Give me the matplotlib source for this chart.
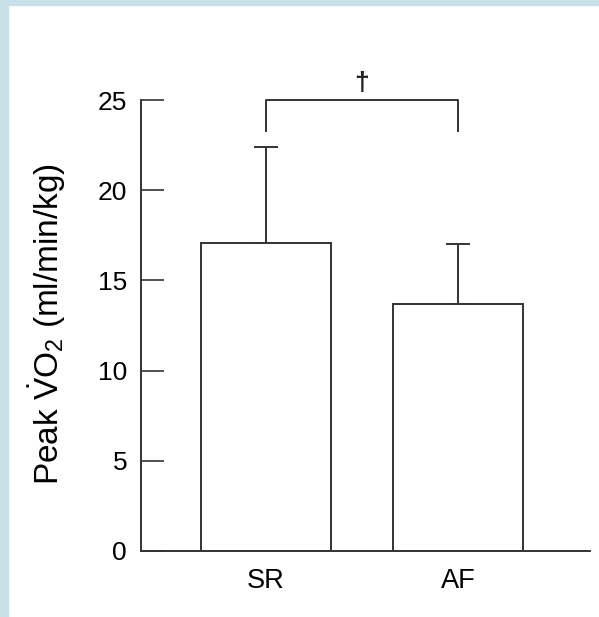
import matplotlib
matplotlib.use("Agg")
import matplotlib.pyplot as plt
from matplotlib.patches import Rectangle

# Data
groups = ["SR", "AF"]
means = [17.1, 13.7]
sds = [5.3, 3.3]
y_ticks = [0, 5, 10, 15, 20, 25]
sig_mark = "\u2020"

ink = "#333333"
frame_blue = "#c9dfea"

plt.rcParams.update({
    "font.family": ["Liberation Sans", "DejaVu Sans"],
    "mathtext.fontset": "custom",
    "mathtext.rm": "Liberation Sans",
    "mathtext.it": "Liberation Sans:italic",
    "text.color": "#231f20",
})

W, H = 599, 617
fig = plt.figure(figsize=(W / 100, H / 100), dpi=100)
fig.patch.set_facecolor("white")

# light blue frame on top and left
fig.patches.append(Rectangle((0, 1 - 5 / H), 1, 5 / H, transform=fig.transFigure,
                             color=frame_blue, zorder=0))
fig.patches.append(Rectangle((0, 0), 8 / W, 1, transform=fig.transFigure,
                             color=frame_blue, zorder=0))

left, right, top, bottom = 141, 590, 100, 551
ax = fig.add_axes([left / W, (H - bottom) / H, (right - left) / W, (bottom - top) / H])

x = list(range(len(groups)))
ax.bar(x, means, width=0.677, color="white", edgecolor=ink, linewidth=1.4, zorder=2)
ax.errorbar(x, means, yerr=[[0] * len(sds), sds], fmt="none", ecolor=ink,
            elinewidth=1.4, capsize=8.3, capthick=1.4, zorder=1)

ax.set_xlim(-0.651, 1.6875)
ax.set_ylim(0, 25)
ax.set_yticks(y_ticks)
ax.set_xticks(x)
ax.set_xticklabels(groups, fontsize=19.5)

for s in ["top", "right"]:
    ax.spines[s].set_visible(False)
for s in ["left", "bottom"]:
    ax.spines[s].set_color(ink)
    ax.spines[s].set_linewidth(1.4)

ax.tick_params(axis="y", direction="in", length=16.5, width=1.2, color=ink,
               labelsize=19, pad=10)
ax.tick_params(axis="x", length=0, pad=12)

ax.set_ylabel(r"Peak $\dot{\mathrm{V}}\mathrm{O}_2$ (ml/min/kg)", fontsize=24)
ax.yaxis.set_label_coords(-0.163, 0.504)

# significance bracket
leg_y, bar_y = 23.3, 25
ax.plot([x[0], x[0], x[1], x[1]], [leg_y, bar_y, bar_y, leg_y], color=ink,
        linewidth=1.4, clip_on=False)
ax.text((x[0] + x[1]) / 2, bar_y + 0.95, sig_mark, ha="center", va="center",
        fontsize=19, fontweight="bold")

fig.savefig("out.png", dpi=100)
